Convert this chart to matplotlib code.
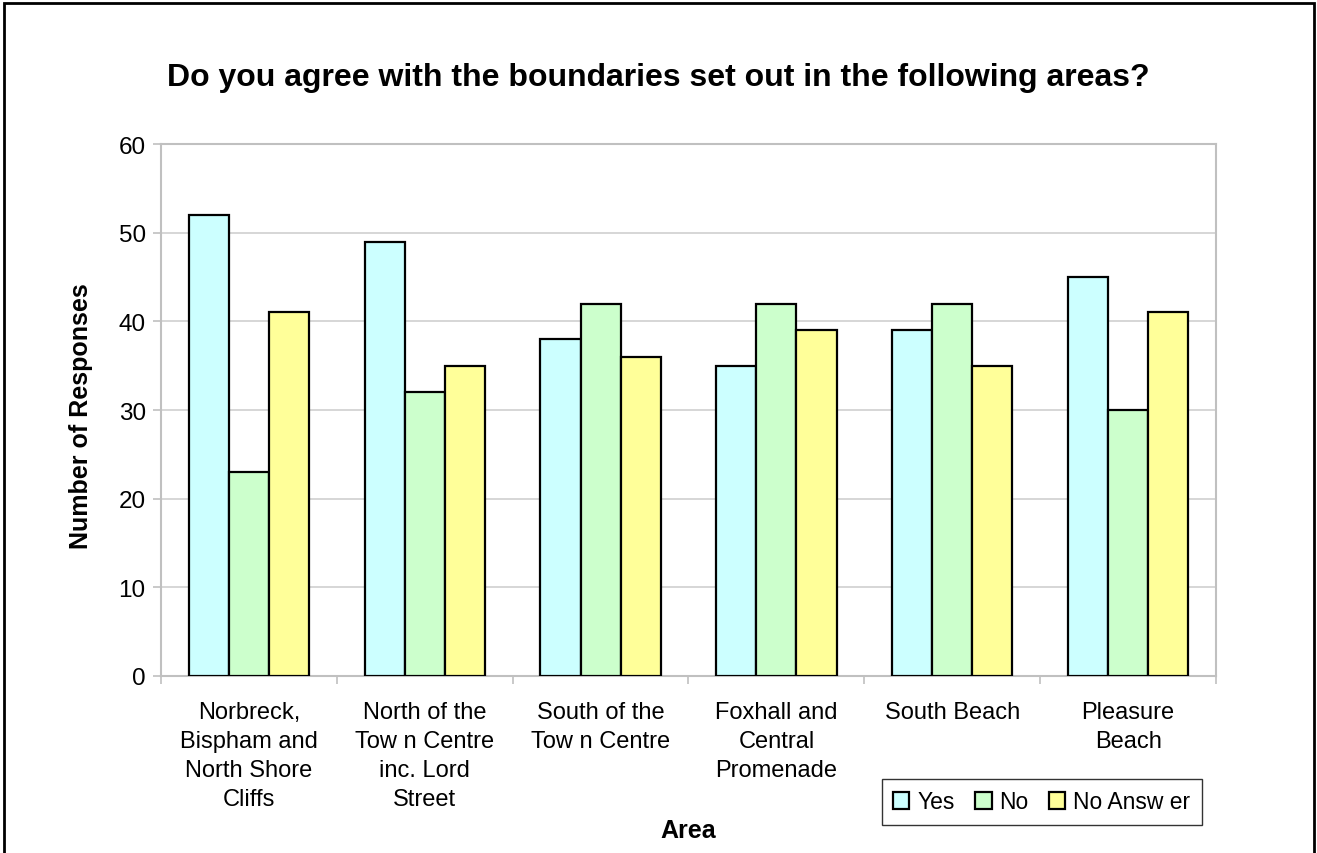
import matplotlib
matplotlib.use('Agg')
import matplotlib.pyplot as plt
from matplotlib.patches import Rectangle
import numpy as np

plt.rcParams['font.family'] = ['Liberation Sans', 'DejaVu Sans']

categories = ['Norbreck,\nBispham and\nNorth Shore\nCliffs',
              'North of the\nTow n Centre\ninc. Lord\nStreet',
              'South of the\nTow n Centre',
              'Foxhall and\nCentral\nPromenade',
              'South Beach',
              'Pleasure\nBeach']
yes = [52, 49, 38, 35, 39, 45]
no = [23, 32, 42, 42, 42, 30]
no_answer = [41, 35, 36, 39, 35, 41]
series_names = ['Yes', 'No', 'No Answ er']
colors = ['#CCFFFF', '#CCFFCC', '#FFFF99']

W, H = 1317, 854
fig = plt.figure(figsize=(W / 100, H / 100), dpi=100)
ax = fig.add_axes([161 / W, 1 - 677 / H, (1216 - 161) / W, (677 - 145) / H])

x = np.arange(len(categories))
width = 0.228
handles = []
for i, (vals, col) in enumerate(zip([yes, no, no_answer], colors)):
    b = ax.bar(x + (i - 1) * width, vals, width, color=col, edgecolor='black',
               linewidth=1.6, label=series_names[i], zorder=3)
    handles.append(b)

ax.set_xlim(-0.5, len(categories) - 0.5)
ax.set_ylim(0, 60)
ax.set_yticks(range(0, 61, 10))
ax.tick_params(axis='y', labelsize=17.5, length=6, color='#c0c0c0', width=1.2, pad=5)
ax.set_xticks(x)
ax.set_xticklabels(categories, fontsize=17, linespacing=1.42, va='top')
ax.tick_params(axis='x', length=0, pad=18)
ax.set_xticks(np.arange(-0.5, len(categories), 1), minor=True)
ax.tick_params(axis='x', which='minor', length=6, color='#c0c0c0', width=1.2)
ax.grid(axis='y', color='#d0d0d0', linewidth=1.2, zorder=0)
for s in ax.spines.values():
    s.set_color('#c0c0c0')
    s.set_linewidth(1.5)

ax.set_ylabel('Number of Responses', fontsize=18, fontweight='bold')
ax.yaxis.set_label_coords((93 - 161) / (1216 - 161), (677 - 416) / (677 - 145))
fig.text(688 / W, 1 - 831 / H, 'Area', fontsize=18, fontweight='bold',
         ha='center', va='center')
fig.text(658 / W, 1 - 78 / H, 'Do you agree with the boundaries set out in the following areas?',
         fontsize=23, fontweight='bold', ha='center', va='center')

leg = fig.legend(handles=handles, labels=series_names, loc='center',
                 bbox_to_anchor=(1042 / W, 1 - 803 / H), ncol=3, fontsize=16.5,
                 frameon=True, fancybox=False, edgecolor='black',
                 handlelength=0.7, handleheight=0.7, handletextpad=0.35,
                 columnspacing=0.9, borderpad=0.5)
leg.get_frame().set_linewidth(1.0)

fig.patches.append(Rectangle((4 / W, -0.05), (1314 - 4) / W, 1.05 - 4 / H,
                             transform=fig.transFigure, fill=False,
                             edgecolor='black', linewidth=2))

fig.savefig('out.png', dpi=100)
